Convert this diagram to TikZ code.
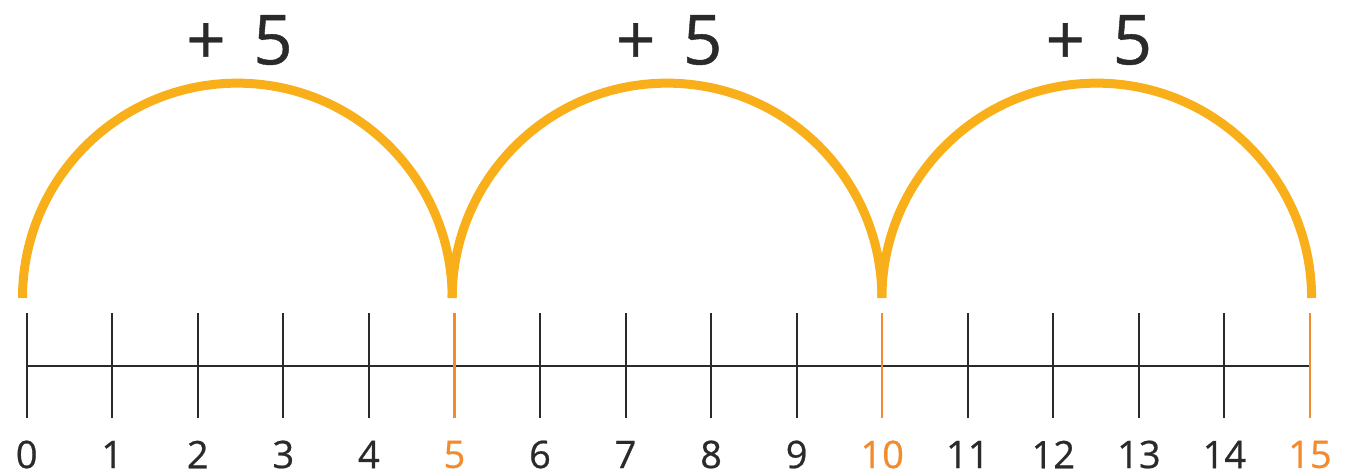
\documentclass[tikz,border=0pt]{standalone}
\usepackage{fontspec}
\setmainfont[FakeBold=0.6]{Open Sans}
\definecolor{arcc}{HTML}{F9AF1A}
\definecolor{orng}{HTML}{F28A2E}
\definecolor{dark}{HTML}{2A2A2A}
\begin{document}
\begin{tikzpicture}[x=1pt,y=1pt,
  axisline/.style={draw=dark,line width=2pt},
  tickline/.style={draw=dark,line width=2pt},
  hiline/.style={draw=orng,line width=2.4pt},
  numlbl/.style={font=\fontsize{38}{40}\selectfont,text=dark,inner sep=0pt},
  hilbl/.style={numlbl,text=orng},
  jumparc/.style={draw=arcc,line width=9pt,line cap=butt},
  jumplbl/.style={font=\fontsize{69}{72}\selectfont,text=dark,inner sep=0pt}]
\useasboundingbox (0,0) rectangle (1352,474);
% tick coordinates
\foreach \i in {0,...,15}{
  \coordinate (t\i) at ({26.7+85.55*\i},108);
  \coordinate (tt\i) at ({26.7+85.55*\i},161);
  \coordinate (tb\i) at ({26.7+85.55*\i},56);
}
\draw[axisline] (t0) -- (t15);
\foreach \i in {0,1,2,3,4,6,7,8,9,11,12,13,14}{
  \draw[tickline] (tt\i) -- (tb\i);
  \node[numlbl] (n\i) at ({26.7+85.55*\i},19.5) {\i};
}
\foreach \i in {5,10,15}{
  \draw[hiline] (tt\i) -- (tb\i);
  \node[hilbl] (n\i) at ({26.7+85.55*\i},19.5) {\i};
}
% arcs
\coordinate (a0) at (22.5,176);
\coordinate (a1) at (452.2,176);
\coordinate (a2) at (881.9,176);
\coordinate (a3) at (1311.6,176);
\draw[jumparc] (a0) arc[start angle=180,end angle=0,radius=214.85];
\draw[jumparc] (a1) arc[start angle=180,end angle=0,radius=214.85];
\draw[jumparc] (a2) arc[start angle=180,end angle=0,radius=214.85];
\node[jumplbl] (j1) at (239.5,434) {+\hspace{0.4em}5};
\node[jumplbl] (j2) at (669.2,434) {+\hspace{0.4em}5};
\node[jumplbl] (j3) at (1098.9,434) {+\hspace{0.4em}5};
\end{tikzpicture}
\end{document}
